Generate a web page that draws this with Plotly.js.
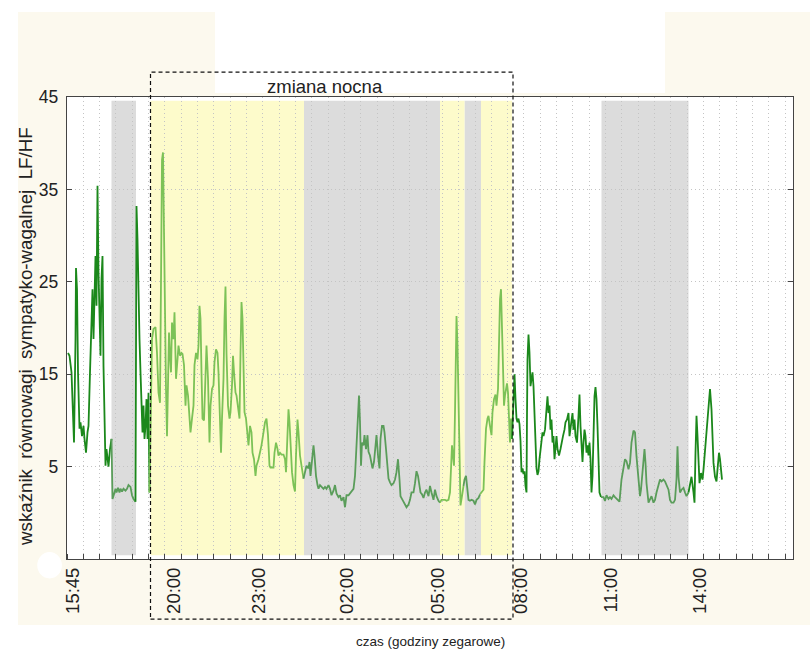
<!DOCTYPE html>
<html>
<head>
<meta charset="utf-8">
<script src="https://cdn.plot.ly/plotly-3.0.1.min.js"></script>
<style>html,body{margin:0;padding:0;background:#ffffff;}#chart{width:810px;height:651px;}</style>
</head>
<body>
<div id="chart"></div>
<script>
// time axis: relative position along the recording (minutes-like units)
const tA = [2,5,9,11,14,17,18,20,22,25,27,30,33,35,38,41,43,46,49,51,53,55,57,59,61,63,65,67,69,71,73,75,77,79,81,83,86,89];
const vA = [17.3,17.0,15.2,11.9,7.6,18.8,26.5,24.2,15.2,9.1,9.8,8.3,9.4,8.0,6.5,8.7,9.4,15.2,20.2,24.2,18.8,22.4,27.8,22.4,35.4,26.0,19.5,17.0,25.3,27.8,15.9,8.0,5.1,6.9,6.2,5.0,6.9,8.0];
const tB = [91,94,97,99,102,105,107,110,113,117,120,123,127,130,133,137];
const vB = [1.5,2.0,2.6,2.2,2.7,2.2,2.6,2.3,2.6,2.4,2.6,3.0,2.8,1.9,1.5,1.2];
const tC = [139,141,143,145,147,149,151,153,155,157,159,161,163,165];
const vC = [33.2,29.6,22.4,18.8,15.2,12.3,8.7,11.6,8.0,9.4,12.3,8.0,13.0,2.2];
const tD = [170,173,177,180,183,186,188,190,192,194,196,198,200,202,204,206,208,210,213,215,218,221,223,226,229,231,234,237,239,242,245,247,250,253,255,258,261,263,265,267,269,271,274,277,279,282,285,287,290,293,295,298,301,303,306,308,310,313,315,317,319,322,325,327,330,332,334,337,339,342,345,347,349,351,353,355,358,361,363,366,369,371,374,377,379,383,386,389,393,396,399,402,405,407,410,413,415,418,421,423,426,429,433,436,438,441,443,445,447,450,453,456,458,461,463,466,469,473];
const vD = [18.8,19.9,20.1,17.3,13.0,11.9,26.0,38.2,39.0,29.6,18.8,13.4,8.3,15.2,19.5,17.0,15.2,20.6,18.8,21.7,14.5,16.6,18.1,17.0,17.3,17.2,16.0,11.6,13.8,12.7,10.2,8.7,10.2,11.6,16.0,17.3,16.6,18.1,22.4,21.0,15.2,10.2,10.0,13.8,18.1,14.5,7.6,11.6,13.4,13.8,16.3,17.7,17.3,15.2,9.4,6.5,10.2,14.5,21.0,24.5,17.3,11.6,10.2,10.9,13.8,17.0,15.2,13.0,12.7,11.6,10.2,17.3,22.8,21.0,13.8,10.9,10.2,8.7,7.3,9.4,8.7,6.5,5.8,4.0,5.1,5.8,6.5,7.3,8.7,9.8,10.2,8.4,5.1,4.9,4.9,4.9,6.5,7.6,6.9,6.2,6.5,6.3,6.3,5.8,4.4,8.0,11.2,9.8,6.9,4.4,3.0,2.3,6.2,10.1,8.7,6.2,5.1,3.7];
const tE = [476,479,483,485,487,490,493,495,498,501,503,506,509,513,516,519,523,526,529,533,536,539,543,546,549,553,556,559,563,566,569,573,576,579,582,584,586,588,590,593,595,598,601,603,606,609,611,614,617,619,622,625,627,630,633,635,638,641,643,646,649,653,656,659,662,665,667,671,675,679,683,686,689,693,696,699,702,705,707,710,713,716,719,723,726,729,733,736,739,743,746];
const vE = [4.4,5.1,4.8,5.5,4.0,6.2,7.3,6.2,4.0,3.0,2.6,3.0,2.8,2.6,2.8,2.6,3.0,2.6,1.9,2.4,3.0,2.1,1.7,1.9,1.3,1.7,0.6,1.9,1.9,2.1,2.4,2.6,4.0,7.3,9.8,12.7,9.8,5.1,7.6,7.3,8.4,6.9,8.4,6.6,6.2,5.1,4.8,5.5,6.9,8.4,6.2,4.8,8.0,9.4,9.4,8.7,6.9,4.8,3.7,3.3,3.0,3.2,3.6,4.4,5.8,3.6,1.8,1.4,0.9,0.6,0.9,1.4,2.2,2.2,3.2,4.5,4.0,2.5,2.2,2.0,1.6,2.2,2.5,1.8,2.9,2.2,1.4,2.5,1.8,1.3,1.1];
const tF = [749,753,756,759,763,766,768,770,772,774,776,778,779,781,783,785,787,790,793];
const vF = [1.4,1.4,1.4,1.3,1.4,2.2,5.5,7.3,6.2,5.1,10.9,18.1,21.3,18.1,10.9,5.5,0.8,1.8,2.9];
const tG = [795,798,801,803,806,809,813,816,819,823,826];
const vG = [3.6,4.0,2.5,1.4,1.3,1.4,1.3,0.9,1.4,1.6,2.0];
const tH = [829,833,835,838,841,843,846,849,851,854,857,859,862,864,866,868,870,872,874,876,878,880,882,884,886,888,890];
const vH = [2.2,2.5,5.5,9.1,10.2,10.5,9.4,8.4,10.9,12.3,12.8,11.6,13.4,18.1,23.1,24.2,19.9,14.5,11.6,12.7,13.4,14.0,13.0,10.9,7.6,10.2,8.0];
const tI = [893,895,897,899,901,903,905,907,909,911,913,915,917,919,920,921,923,925,927,929,931,933,935,937,939,941,943,945,948,951,953,956,959,961,963,965,967,969,971,973,975,977,979,981,984,987,989,992,995,997,1000,1003,1005,1007,1009,1011,1013,1015,1017,1020,1023,1025,1027,1029,1031,1033,1035,1037,1039,1041,1043,1045,1047,1049,1051,1053,1055,1057,1059,1061,1063,1065,1068];
const vI = [13.4,15.0,12.3,10.2,9.8,10.2,9.6,7.8,4.4,4.8,4.2,4.5,2.9,2.2,10.6,16.6,19.3,17.3,13.7,14.8,15.2,13.7,9.9,7.0,4.8,4.1,4.5,5.8,7.6,8.7,8.3,9.0,11.2,12.6,10.8,11.6,9.0,10.1,7.6,8.3,5.8,6.9,8.3,6.9,6.2,6.9,7.6,8.3,9.0,9.8,10.1,10.8,8.3,9.4,10.5,10.8,9.0,10.1,8.3,7.6,10.5,12.8,9.4,6.9,5.5,7.6,9.0,8.3,6.5,7.3,6.2,7.6,5.8,2.2,4.0,8.3,12.6,13.6,12.3,9.4,5.8,2.2,1.7];
const tJ = [1073,1076,1079,1083,1086,1089,1093,1096,1100,1105,1109,1113,1116,1119,1123,1126,1129,1133,1136,1139,1143,1146,1148,1151,1155,1157,1159,1163,1166,1169,1173,1176,1179,1183,1186,1189,1193,1196,1199,1203,1206,1209,1213,1216,1219,1221,1223,1226,1229,1233,1236,1239,1243];
const vJ = [1.7,1.3,1.9,1.5,1.7,1.5,1.9,1.7,1.5,1.2,3.6,5.0,5.8,5.6,4.7,5.4,7.6,8.9,8.7,6.1,3.6,1.8,2.5,4.7,6.9,5.4,3.2,1.1,1.4,1.8,1.1,1.4,2.2,3.2,3.6,3.4,3.6,3.4,3.0,2.5,1.4,1.1,1.1,1.4,3.6,7.2,3.9,2.2,2.5,2.7,2.2,1.8,2.2];
const tK = [1246,1249,1253,1255,1257,1259,1261,1263,1265,1268,1271,1273,1276,1279,1283,1286,1289,1291,1293,1296,1299,1301,1304,1306,1308,1310];
const vK = [3.2,3.9,2.2,1.1,6.5,10.5,8.3,4.7,3.2,4.3,3.6,4.7,6.5,8.3,10.9,13.4,11.2,8.3,5.4,3.9,3.4,4.7,6.5,5.8,4.3,3.6];

const segZones = ['day','grey','day','night','grey','night','grey','night','day','grey','day'];
const segT = [tA,tB,tC,tD,tE,tF,tG,tH,tI,tJ,tK];
const segV = [vA,vB,vC,vD,vE,vF,vG,vH,vI,vJ,vK];

const greyBands = [[89,138],[474,746],[795,828],[1069,1243]];
const yellowBands = [[167,474],[746,795],[828,890]];
const nightShift = [167,892];
const nightLabel = 'zmiana nocna';
const nightLabelAt = 516;

const tickPos = [11,214,384,560,741,907,1087,1265];
const tickText = ['15:45','20:00','23:00','02:00','05:00','08:00','11:00','14:00'];
const yTicks = [5,15,25,35,45];
const yTitle = 'wskaźnik\u00a0 równowagi\u00a0 sympatyko-wagalnej\u00a0 LF/HF';
const xTitle = 'czas (godziny zegarowe)';

const zoneColor = {day:'#1b881b', grey:'#5a9d5a', night:'#7cc257'};

const traces = segT.map((t, i) => {
  let x = t.slice(), y = segV[i].slice();
  if (i > 0) {
    const pt = segT[i-1], pv = segV[i-1];
    x.unshift(pt[pt.length-1]); y.unshift(pv[pv.length-1]);
  }
  return {x:x, y:y, type:'scatter', mode:'lines', line:{color:zoneColor[segZones[i]], width:1.8}, hoverinfo:'skip', showlegend:false};
});

const shapes = [];
// page background panels (cream with a white strip at top centre), white plot area
shapes.push({type:'rect', xref:'paper', yref:'paper', x0:-0.0675, x1:1.03, y0:-0.143, y1:1.184, fillcolor:'#fcf9ee', line:{width:0}, layer:'below'});
shapes.push({type:'rect', xref:'paper', yref:'paper', x0:0.2039, x1:0.8237, y0:1.0087, y1:1.22, fillcolor:'#ffffff', line:{width:0}, layer:'below'});
shapes.push({type:'circle', xref:'paper', yref:'paper', x0:-0.041, x1:-0.007, y0:-0.042, y1:0.015, fillcolor:'#ffffff', line:{width:0}, layer:'below'});
shapes.push({type:'rect', xref:'paper', yref:'paper', x0:0, x1:1, y0:0, y1:1, fillcolor:'#ffffff', line:{width:0}, layer:'below'});
greyBands.forEach(b => shapes.push({type:'rect', xref:'x', yref:'y', x0:b[0], x1:b[1], y0:-4.6, y1:44.6, fillcolor:'#dcdcdc', line:{width:0}, layer:'below'}));
yellowBands.forEach(b => shapes.push({type:'rect', xref:'x', yref:'y', x0:b[0], x1:b[1], y0:-4.6, y1:44.6, fillcolor:'#fdfbcb', line:{width:0}, layer:'below'}));
shapes.push({type:'rect', xref:'x', yref:'paper', x0:nightShift[0], x1:nightShift[1], y0:-0.13, y1:1.054, line:{color:'#111', width:1.2, dash:'4px,3px'}, fillcolor:'rgba(0,0,0,0)', layer:'above'});

const layout = {
  width:810, height:651,
  paper_bgcolor:'#ffffff', plot_bgcolor:'#ffffff',
  margin:{l:67, r:17, t:97, b:92},
  font:{family:'Arial, "Liberation Sans", sans-serif', color:'#222'},
  showlegend:false,
  xaxis:{
    range:[0,1452], tickmode:'array', tickvals:tickPos, ticktext:tickText, tickangle:-90,
    ticks:'', showgrid:false, zeroline:false, showline:true, linecolor:'#444', linewidth:1.2, mirror:true,
    tickfont:{size:18.5, color:'#222'},
    minor:{tickmode:'linear', tick0:0, dtick:32.64, ticks:'inside', ticklen:5, tickcolor:'#444', showgrid:true, gridcolor:'#c4c4c4', griddash:'1px,3px', gridwidth:1}
  },
  yaxis:{
    range:[-5,45], tickmode:'array', tickvals:yTicks, ticks:'inside', ticklen:5, tickcolor:'#444',
    showgrid:true, gridcolor:'#c4c4c4', griddash:'1px,3px', gridwidth:1, zeroline:false,
    showline:true, linecolor:'#444', linewidth:1.2, mirror:'ticks',
    tickfont:{size:17.5, color:'#222'}, ticklabelstandoff:4
  },
  shapes:shapes,
  annotations:[
    {xref:'x', yref:'paper', x:nightLabelAt, y:1.022, yanchor:'middle', text:nightLabel, showarrow:false, font:{size:18.5, color:'#222'}},
    {xref:'paper', yref:'paper', x:-0.057, y:0.482, xanchor:'center', yanchor:'middle', textangle:-90, text:yTitle, showarrow:false, font:{size:18.7, color:'#222'}},
    {xref:'paper', yref:'paper', x:0.5, y:-0.178, xanchor:'center', yanchor:'middle', text:xTitle, showarrow:false, font:{size:13.5, color:'#222'}}
  ]
};

Plotly.newPlot('chart', traces, layout, {displayModeBar:false, staticPlot:true});
</script>
</body>
</html>
